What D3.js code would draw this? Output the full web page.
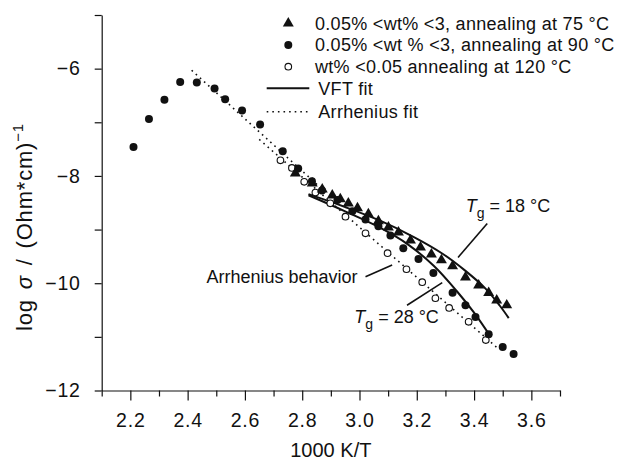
<!DOCTYPE html>
<html>
<head>
<meta charset="utf-8">
<script src="https://cdn.jsdelivr.net/npm/d3@7"></script>
<style>
  html, body { margin: 0; padding: 0; background: #fff; }
  svg { display: block; font-family: "Liberation Sans", Arial, Helvetica, sans-serif; }
</style>
</head>
<body>
<svg id="chart" width="618" height="461"></svg>
<script>
// Conductivity vs inverse temperature: log σ against 1000 K/T
const xMajorTicks = [2.2, 2.4, 2.6, 2.8, 3.0, 3.2, 3.4, 3.6];
const xMinorTicks = [2.1, 2.3, 2.5, 2.7, 2.9, 3.1, 3.3, 3.5, 3.7];
const yMajorTicks = [-12, -10, -8, -6];
const yMinorTicks = [-11, -9, -7, -5];

// 0.05% < wt% < 3, annealed at 75 °C  (triangles)
const anneal75 = [
  [2.776, -7.95], [2.835, -8.14], [2.870, -8.25], [2.905, -8.36], [2.933, -8.43],
  [2.961, -8.51], [2.993, -8.60], [3.031, -8.71], [3.066, -8.84], [3.101, -8.96],
  [3.136, -9.05], [3.178, -9.20], [3.213, -9.33], [3.251, -9.46], [3.286, -9.57],
  [3.325, -9.68], [3.370, -9.89], [3.416, -10.04], [3.451, -10.18], [3.479, -10.32],
  [3.514, -10.41]
];

// 0.05% < wt% < 3, annealed at 90 °C  (filled circles)
const anneal90 = [
  [2.211, -7.46], [2.265, -6.94], [2.319, -6.58], [2.374, -6.25], [2.432, -6.26],
  [2.494, -6.37], [2.531, -6.57], [2.590, -6.78], [2.653, -7.04], [2.732, -7.54],
  [2.786, -7.86], [2.834, -8.10], [2.869, -8.27], [2.923, -8.45], [2.975, -8.66],
  [3.021, -8.81], [3.066, -8.94], [3.108, -9.11], [3.153, -9.35], [3.206, -9.55],
  [3.258, -9.81], [3.325, -10.18], [3.370, -10.41], [3.405, -10.63], [3.451, -10.95],
  [3.500, -11.19], [3.538, -11.32]
];

// wt% < 0.05, annealed at 120 °C  (open circles)
const anneal120 = [
  [2.724, -7.71], [2.764, -7.85], [2.807, -8.11], [2.846, -8.31], [2.898, -8.51],
  [2.951, -8.76], [3.021, -9.07], [3.098, -9.44], [3.164, -9.74], [3.219, -9.98],
  [3.265, -10.28], [3.313, -10.46], [3.381, -10.72], [3.441, -11.06]
];

// VFT fits
const vftTg18 = [
  [2.822, -8.34], [2.95, -8.58], [3.07, -8.83], [3.19, -9.14], [3.29, -9.45],
  [3.37, -9.77], [3.44, -10.10], [3.49, -10.42], [3.521, -10.65]
];
const vftTg28 = [
  [2.822, -8.36], [2.95, -8.66], [3.07, -8.96], [3.17, -9.28], [3.26, -9.68],
  [3.34, -10.15], [3.40, -10.55], [3.458, -11.00]
];

// Arrhenius fits
const arrheniusHigh = [[2.414, -6.03], [2.86, -8.20]];
const arrheniusLow = [[2.65, -7.32], [3.48, -11.20]];

// Annotation arrows: [from, to] in data units
const arrowTg18 = [[3.446, -8.886], [3.344, -9.52]];
const arrowTg28 = [[3.166, -10.41], [3.289, -9.99]];
const arrowArrh = [[3.021, -9.88], [3.114, -9.66]];

const svg = d3.select("#chart");

const x = d3.scaleLinear().domain([2.1, 3.7]).range([101.7, 560]);
const y = d3.scaleLinear().domain([-12, -5]).range([390.5, 15]);

const fmtX = d3.format(".1f");
const fmtY = d => d3.format("d")(d).replace("-", "\u2212");

// x axis
const gx = svg.append("g").attr("transform", `translate(0,${y(-12)})`);
gx.call(d3.axisBottom(x).tickValues(xMajorTicks).tickFormat(fmtX)
  .tickSize(10).tickSizeOuter(0).tickPadding(13));
gx.append("g").call(d3.axisBottom(x).tickValues(xMinorTicks).tickFormat("")
  .tickSize(6).tickSizeOuter(0)).select(".domain").remove();

// y axis
const gy = svg.append("g").attr("transform", `translate(${x(2.1)},0)`);
gy.call(d3.axisLeft(y).tickValues(yMajorTicks).tickFormat(fmtY)
  .tickSize(7).tickSizeOuter(0).tickPadding(14));
gy.append("g").call(d3.axisLeft(y).tickValues(yMinorTicks).tickFormat("")
  .tickSize(7).tickSizeOuter(0)).select(".domain").remove();

svg.selectAll(".domain, .tick line").attr("stroke", "#111").attr("stroke-width", 1.2);
svg.selectAll(".tick text").attr("font-size", 19.5).attr("fill", "#111")
  .attr("font-family", "'Liberation Sans', Arial, sans-serif").style("letter-spacing", "0.8px");

// axis titles
svg.append("text")
  .attr("x", (x(2.1) + x(3.7)) / 2).attr("y", 457)
  .attr("text-anchor", "middle").attr("font-size", 20).attr("fill", "#111")
  .text("1000 K/T");

const ylab = svg.append("text")
  .attr("transform", "translate(32,227) rotate(-90)")
  .attr("text-anchor", "middle").attr("font-size", 22).attr("fill", "#111")
  .style("letter-spacing", "0.8px").style("word-spacing", "3px");
ylab.append("tspan").text("log ");
ylab.append("tspan").attr("font-style", "italic").text("σ");
ylab.append("tspan").text(" / (Ohm*cm)");
ylab.append("tspan").attr("font-size", 15).attr("dy", -9).text("\u22121");

// fit curves
const line = d3.line().x(d => x(d[0])).y(d => y(d[1]));
const smooth = d3.line().x(d => x(d[0])).y(d => y(d[1])).curve(d3.curveCatmullRom);

svg.append("g").selectAll("path").data([arrheniusHigh, arrheniusLow]).join("path")
  .attr("d", line).attr("fill", "none").attr("stroke", "#111")
  .attr("stroke-width", 1.6).attr("stroke-dasharray", "1.6,4");

svg.append("g").selectAll("path").data([vftTg18, vftTg28]).join("path")
  .attr("d", smooth).attr("fill", "none").attr("stroke", "#111").attr("stroke-width", 2);

// markers
svg.append("g").selectAll("circle").data(anneal120).join("circle")
  .attr("cx", d => x(d[0])).attr("cy", d => y(d[1])).attr("r", 3.3)
  .attr("fill", "#fff").attr("stroke", "#111").attr("stroke-width", 1.1);

const tri = d3.symbol().type(d3.symbolTriangle).size(52);
svg.append("g").selectAll("path").data(anneal75).join("path")
  .attr("transform", d => `translate(${x(d[0])},${y(d[1])})`)
  .attr("d", tri).attr("fill", "#111");

svg.append("g").selectAll("circle").data(anneal90).join("circle")
  .attr("cx", d => x(d[0])).attr("cy", d => y(d[1])).attr("r", 4)
  .attr("fill", "#111");

// annotations
const ann = svg.append("g").attr("fill", "#111").attr("font-size", 18);
ann.selectAll("line").data([arrowTg18, arrowTg28, arrowArrh]).join("line")
  .attr("x1", d => x(d[0][0])).attr("y1", d => y(d[0][1]))
  .attr("x2", d => x(d[1][0])).attr("y2", d => y(d[1][1]))
  .attr("stroke", "#111").attr("stroke-width", 1.6);

ann.append("text").attr("x", x(2.993)).attr("y", y(-10.0)).attr("text-anchor", "end")
  .text("Arrhenius behavior");

function tgLabel(px, py, val) {
  const t = ann.append("text").attr("x", px).attr("y", py);
  t.append("tspan").attr("font-style", "italic").text("T");
  t.append("tspan").attr("font-size", 14).attr("dy", 6).text("g");
  t.append("tspan").attr("dy", -6).text(` = ${val} °C`);
}
tgLabel(x(3.371), y(-8.67), 18);
tgLabel(x(2.982), y(-10.74), 28);

// legend
const leg = svg.append("g").attr("font-size", 18).attr("fill", "#111")
  .style("letter-spacing", "0.3px");
const legRows = [
  { y: 23.3, kind: "tri", label: "0.05% <wt% <3, annealing at 75 °C" },
  { y: 45, kind: "dot", label: "0.05% <wt % <3, annealing at 90 °C" },
  { y: 66.7, kind: "open", label: "wt% <0.05 annealing at 120 °C" },
  { y: 88.3, kind: "solid", label: "VFT fit" },
  { y: 111.7, kind: "dotted", label: "Arrhenius fit" }
];
legRows.forEach(r => {
  if (r.kind === "tri") {
    leg.append("path").attr("transform", `translate(288.3,${r.y})`).attr("d", tri).attr("fill", "#111");
  } else if (r.kind === "dot") {
    leg.append("circle").attr("cx", 288.3).attr("cy", r.y).attr("r", 4).attr("fill", "#111");
  } else if (r.kind === "open") {
    leg.append("circle").attr("cx", 288.3).attr("cy", r.y).attr("r", 3.3)
      .attr("fill", "#fff").attr("stroke", "#111").attr("stroke-width", 1.1);
  } else {
    leg.append("line").attr("x1", 266.7).attr("x2", 309.3).attr("y1", r.y).attr("y2", r.y)
      .attr("stroke", "#111").attr("stroke-width", r.kind === "solid" ? 2 : 1.6)
      .attr("stroke-dasharray", r.kind === "solid" ? null : "1.6,4");
  }
  leg.append("text").attr("x", r.kind === "solid" || r.kind === "dotted" ? 318.3 : 315)
    .attr("y", r.y).attr("dy", "0.36em").text(r.label);
});
</script>
</body>
</html>
